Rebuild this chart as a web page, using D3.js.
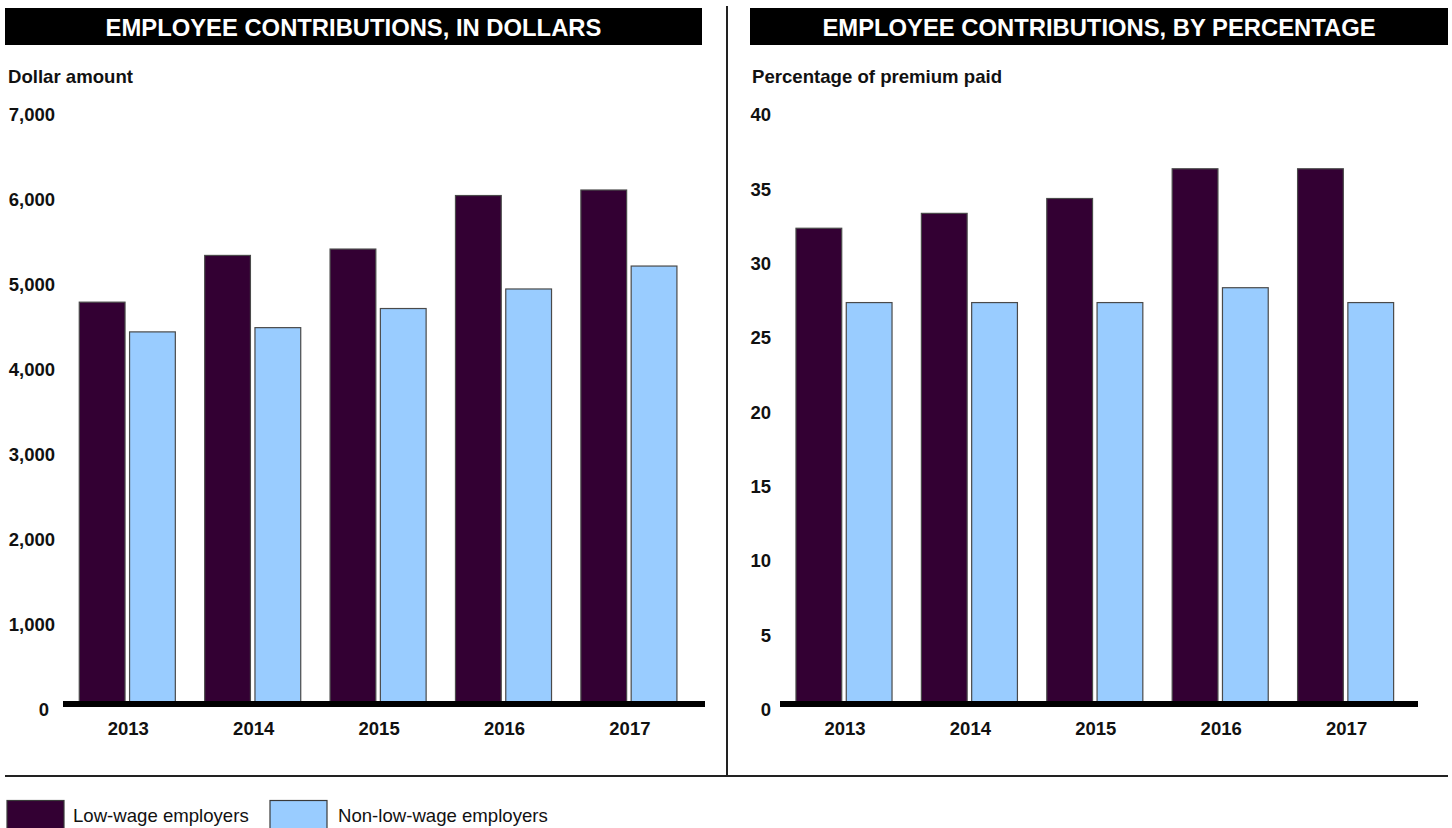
<!DOCTYPE html>
<html>
<head>
<meta charset="utf-8">
<script src="https://cdn.jsdelivr.net/npm/d3@7"></script>
<style>
  html, body { margin: 0; padding: 0; background: #ffffff; }
  svg { display: block; font-family: "Liberation Sans", Arial, Helvetica, sans-serif; }
</style>
</head>
<body>
<svg id="chart" width="1452" height="828"></svg>
<script>
// Survey years shown on both panels
const years = ["2013", "2014", "2015", "2016", "2017"];

// Annual employee contributions, in dollars
const dollarsLowWage = [4730, 5280, 5355, 5985, 6050];
const dollarsNonLowWage = [4380, 4430, 4655, 4885, 5155];

// Share of the premium paid by employees, in percent
const pctLowWage = [32, 33, 34, 36, 36];
const pctNonLowWage = [27, 27, 27, 28, 27];

// Axis ticks
const dollarTicks = [0, 1000, 2000, 3000, 4000, 5000, 6000, 7000];
const pctTicks = [0, 5, 10, 15, 20, 25, 30, 35, 40];

// Series names and colours
const seriesNames = ["Low-wage employers", "Non-low-wage employers"];
const seriesColors = ["#330033", "#99ccff"];

const svg = d3.select("#chart");
const color = d3.scaleOrdinal().domain(seriesNames).range(seriesColors);

// Panel frame: separator lines
svg.append("line")
  .attr("x1", 727).attr("x2", 727).attr("y1", 6).attr("y2", 776)
  .attr("stroke", "#222").attr("stroke-width", 2);
svg.append("line")
  .attr("x1", 5).attr("x2", 1448).attr("y1", 776).attr("y2", 776)
  .attr("stroke", "#222").attr("stroke-width", 2);

function drawPanel(opts) {
  const g = svg.append("g");

  // Title band
  g.append("rect")
    .attr("x", opts.titleX0).attr("y", 8)
    .attr("width", opts.titleX1 - opts.titleX0).attr("height", 37)
    .attr("fill", "#000");
  g.append("text")
    .attr("x", (opts.titleX0 + opts.titleX1) / 2).attr("y", 36)
    .attr("text-anchor", "middle")
    .attr("fill", "#fff")
    .attr("font-size", 23.8).attr("font-weight", "bold")
    .text(opts.title);

  // Axis title
  g.append("text")
    .attr("x", opts.axisTitleX).attr("y", 83)
    .attr("font-size", 18.6).attr("font-weight", "bold")
    .attr("fill", "#111")
    .text(opts.axisTitle);

  const y = d3.scaleLinear().domain([0, opts.max]).range([704, 109.3]);

  const x0 = d3.scaleBand().domain(years)
    .range([opts.bandX0, opts.bandX0 + 627])
    .paddingInner(0.234).paddingOuter(0.117);
  const x1 = d3.scaleBand().domain(seriesNames)
    .range([0, x0.bandwidth()])
    .paddingInner(0.09).paddingOuter(0);

  // Y tick labels
  const yAxis = d3.axisLeft(y)
    .tickValues(opts.ticks)
    .tickSize(0).tickPadding(0)
    .tickFormat(opts.format);
  const ya = g.append("g")
    .attr("transform", `translate(${opts.tickX},5.5)`)
    .call(yAxis);
  ya.select(".domain").remove();
  ya.selectAll("text")
    .attr("font-size", 18.5).attr("font-weight", "bold")
    .attr("font-family", "'Liberation Sans', Arial, sans-serif")
    .attr("fill", "#111")
    .attr("dx", d => d === 0 ? opts.zeroDx : 0);

  // Bars
  const rows = years.map((yr, i) => ({
    year: yr,
    vals: [
      { name: seriesNames[0], v: opts.low[i] },
      { name: seriesNames[1], v: opts.non[i] }
    ]
  }));
  const grp = g.selectAll(".grp").data(rows).join("g")
    .attr("class", "grp")
    .attr("transform", d => `translate(${x0(d.year)},0)`);
  grp.selectAll("rect").data(d => d.vals).join("rect")
    .attr("x", d => x1(d.name))
    .attr("width", x1.bandwidth())
    .attr("y", d => y(d.v))
    .attr("height", d => y(0) - y(d.v))
    .attr("fill", d => color(d.name))
    .attr("stroke", "#4a4a4a").attr("stroke-width", 1.2);

  // Baseline
  g.append("line")
    .attr("x1", opts.baseX0).attr("x2", opts.baseX1)
    .attr("y1", y(0)).attr("y2", y(0))
    .attr("stroke", "#000").attr("stroke-width", 6);

  // Year labels
  const xAxis = d3.axisBottom(x0).tickSize(0).tickPadding(0);
  const xa = g.append("g").attr("transform", "translate(1,722)").call(xAxis);
  xa.select(".domain").remove();
  xa.selectAll("text")
    .attr("font-size", 18.5).attr("font-weight", "bold")
    .attr("font-family", "'Liberation Sans', Arial, sans-serif")
    .attr("fill", "#111");
}

drawPanel({
  title: "EMPLOYEE CONTRIBUTIONS, IN DOLLARS",
  titleX0: 5, titleX1: 702,
  axisTitle: "Dollar amount", axisTitleX: 8,
  max: 7000, ticks: dollarTicks, format: d3.format(","),
  tickX: 55, zeroDx: -6,
  bandX0: 64.6, baseX0: 63, baseX1: 705,
  low: dollarsLowWage, non: dollarsNonLowWage
});

drawPanel({
  title: "EMPLOYEE CONTRIBUTIONS, BY PERCENTAGE",
  titleX0: 750, titleX1: 1448,
  axisTitle: "Percentage of premium paid", axisTitleX: 752,
  max: 40, ticks: pctTicks, format: d3.format("d"),
  tickX: 771, zeroDx: 0,
  bandX0: 781.3, baseX0: 780, baseX1: 1418,
  low: pctLowWage, non: pctNonLowWage
});

// Legend
const legend = svg.append("g");
const legendItems = [
  { name: seriesNames[0], x: 7, tx: 73 },
  { name: seriesNames[1], x: 270, tx: 338 }
];
legend.selectAll("rect").data(legendItems).join("rect")
  .attr("x", d => d.x).attr("y", 800.5)
  .attr("width", 57).attr("height", 36)
  .attr("fill", d => color(d.name))
  .attr("stroke", "#3a3a3a").attr("stroke-width", 1.2);
legend.selectAll("text").data(legendItems).join("text")
  .attr("x", d => d.tx).attr("y", 822)
  .attr("font-size", 18.6)
  .attr("fill", "#111")
  .text(d => d.name);
</script>
</body>
</html>
